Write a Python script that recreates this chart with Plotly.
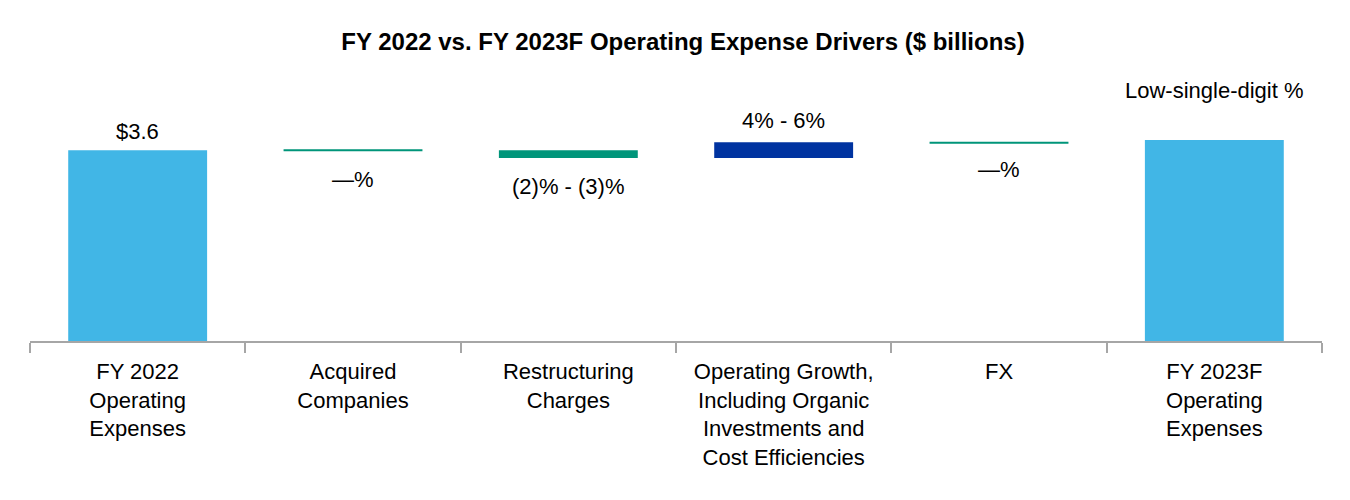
import plotly.graph_objects as go

categories = ["FY 2022<br>Operating<br>Expenses", "Acquired<br>Companies", "Restructuring<br>Charges",
              "Operating Growth,<br>Including Organic<br>Investments and<br>Cost Efficiencies",
              "FX", "FY 2023F<br>Operating<br>Expenses"]
bases = [0, 3.6, 3.45, 3.45, 3.74, 0]
heights = [3.6, 0, 0.15, 0.30, 0, 3.79]
label_texts = ["$3.6", "—%", "(2)% - (3)%", "4% - 6%", "—%", "Low-single-digit %"]
label_values = [3.6, 3.6, 3.45, 3.75, 3.74, 3.79]
label_shift = [19, -29, -28, 22, -27, 50]

colors = ["#41B6E6", "#00957A", "#00957A", "#0033A0", "#00957A", "#41B6E6"]
line_widths = [0, 2, 0, 0, 2, 0]

FONT = "Liberation Sans, Arial"

fig = go.Figure()
fig.add_trace(go.Bar(
    x=categories, y=heights, base=bases, width=0.645,
    marker=dict(color=colors, line=dict(color=colors, width=line_widths)),
    hoverinfo="skip", showlegend=False,
))

for c, t, v, s in zip(categories, label_texts, label_values, label_shift):
    fig.add_annotation(x=c, y=v, text=t, showarrow=False, yshift=s,
                       font=dict(size=22, color="#000000", family=FONT))

fig.update_layout(
    width=1350, height=500,
    margin=dict(l=22, r=36, t=52, b=167),
    paper_bgcolor="white", plot_bgcolor="white",
    title=dict(text="<b>FY 2022 vs. FY 2023F Operating Expense Drivers ($ billions)</b>",
               x=0.5, xanchor="center", y=0.932, yanchor="middle",
               font=dict(size=24, color="#000000", family=FONT)),
    font=dict(family=FONT, color="#000000"),
)
fig.update_xaxes(
    type="category", range=[-0.5, 5.5],
    showline=True, linecolor="#A6A6A6", linewidth=1.5,
    ticks="outside", tickson="boundaries", ticklen=10, tickcolor="#A6A6A6", tickwidth=1.5,
    ticklabelstandoff=10,
    tickfont=dict(size=22, color="#000000", family=FONT),
    showgrid=False, zeroline=False,
)
fig.update_yaxes(range=[0, 5.3], visible=False, showgrid=False, zeroline=False)

fig.write_html("out.html")
